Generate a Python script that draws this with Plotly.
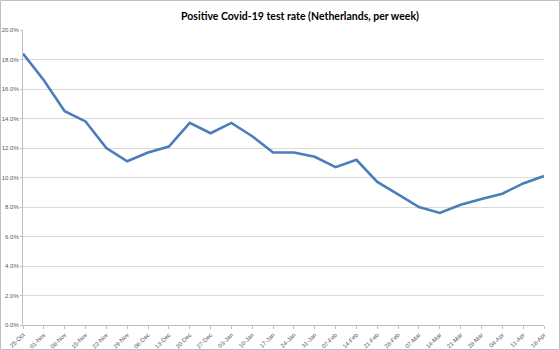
import plotly.graph_objects as go

weeks = ["25-Oct", "01-Nov", "08-Nov", "15-Nov", "22-Nov", "29-Nov", "06-Dec", "13-Dec",
         "20-Dec", "27-Dec", "03-Jan", "10-Jan", "17-Jan", "24-Jan", "31-Jan", "07-Feb",
         "14-Feb", "21-Feb", "28-Feb", "07-Mar", "14-Mar", "21-Mar", "28-Mar", "04-Apr",
         "11-Apr", "18-Apr"]
positive_rate = [18.4, 16.6, 14.5, 13.8, 12.0, 11.1, 11.7, 12.1, 13.7, 13.0, 13.7, 12.8, 11.7,
                 11.7, 11.4, 10.7, 11.2, 9.7, 8.85, 8.0, 7.6, 8.15, 8.55, 8.9, 9.6, 10.1]
y_ticks = [0, 2, 4, 6, 8, 10, 12, 14, 16, 18, 20]
y_tick_text = [f"{v:.1f}%" for v in y_ticks]

W, H = 560, 350
L, R, T, B = 23, 16, 30, 25
pw, ph = W - L - R, H - T - B

fig = go.Figure(go.Scatter(
    x=list(range(len(weeks))), y=positive_rate, mode="lines",
    line=dict(color="#4A7EBB", width=2.6), hoverinfo="skip",
))

fig.update_layout(
    width=W, height=H, margin=dict(l=L, r=R, t=T, b=B, autoexpand=False),
    paper_bgcolor="white", plot_bgcolor="white", showlegend=False,
    font=dict(family="Liberation Sans", color="#595959"),
    title=dict(text="<b>Positive Covid-19 test rate (Netherlands, per week)</b>",
               x=300 / W, xanchor="center", y=1 - 16 / H, yanchor="middle",
               font=dict(size=10.5, color="#000000", family="Lato")),
    xaxis=dict(range=[0, len(weeks) - 1], tickmode="array", automargin=False,
               tickvals=list(range(len(weeks))), ticktext=weeks, tickangle=-45,
               tickfont=dict(size=6, color="#595959"), showgrid=False,
               showline=True, linecolor="#BFBFBF", linewidth=1,
               ticks="outside", ticklen=3, tickcolor="#BFBFBF", zeroline=False,
               fixedrange=True),
    yaxis=dict(range=[0, 20], tickmode="array", tickvals=y_ticks, ticktext=y_tick_text,
               automargin=False,
               tickfont=dict(size=6, color="#595959"), showgrid=True,
               gridcolor="#D9D9D9", gridwidth=1, showline=True, linecolor="#BFBFBF",
               linewidth=1, ticks="outside", ticklen=2, tickcolor="#BFBFBF",
               zeroline=False, fixedrange=True),
    shapes=[dict(type="rect", xref="paper", yref="paper",
                 x0=(-L + 0.5) / pw, x1=1 + (R - 0.5) / pw,
                 y0=(-B + 0.5) / ph, y1=1 + (T - 0.5) / ph,
                 line=dict(color="#BFBFBF", width=1), layer="above")],
)

fig.write_html("out.html")
